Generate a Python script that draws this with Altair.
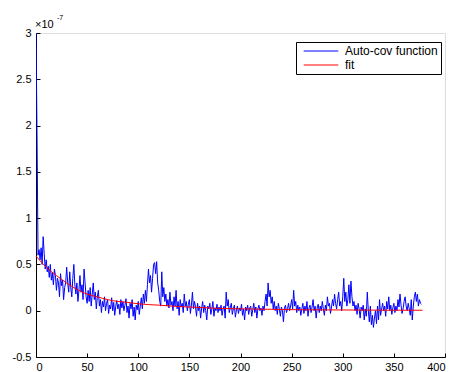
import altair as alt
import pandas as pd

# ---- data (values in units of 1e-7) ----
acov = [
    3.0, 1.9, 0.6, 0.66, 0.55, 0.68, 0.5, 0.8, 0.62, 0.45,
    0.55, 0.42, 0.48, 0.36, 0.5, 0.33, 0.41, 0.28, 0.45, 0.38,
    0.22, 0.35, 0.3, 0.15, 0.4, 0.27, 0.33, 0.12, 0.25, 0.3,
    0.47, 0.3, 0.2, 0.42, 0.25, 0.15, 0.35, 0.5, 0.28, 0.18,
    0.3, 0.1, 0.22, 0.38, 0.2, 0.28, 0.12, 0.45, 0.3, 0.15,
    0.08, 0.22, 0.1, 0.25, 0.05, 0.18, 0.3, 0.12, 0.2, 0.02,
    0.15, 0.22, 0.05, 0.12, -0.02, 0.1, 0.04, 0.15, 0.0, 0.08,
    0.12, -0.03, 0.06, 0.02, 0.14, 0.0, 0.09, -0.05, 0.05, 0.11,
    0.02, 0.07, -0.04, 0.12, 0.03, 0.1, 0.0, 0.06, 0.13, -0.02,
    0.05, -0.08, 0.08, 0.02, 0.12, -0.06, 0.04, -0.1, 0.06, 0.01,
    0.1, -0.04, 0.05, 0.14, 0.02, 0.18, 0.08, 0.22, 0.1, 0.28,
    0.45, 0.3, 0.38, 0.2, 0.35, 0.5, 0.52, 0.4, 0.53, 0.3,
    0.22, 0.1, 0.05, 0.42, 0.15, 0.25, 0.1, 0.18, 0.05, 0.12,
    0.03, 0.2, 0.06, 0.1, 0.0, 0.15, 0.05, 0.22, 0.02, 0.1,
    -0.05, 0.12, 0.04, 0.08, -0.02, 0.18, 0.05, 0.1, 0.0, 0.07,
    0.12, -0.03, 0.06, 0.2, 0.02, 0.1, 0.04, -0.06, 0.08, 0.0,
    0.05, -0.08, 0.03, 0.1, -0.02, 0.06, 0.0, -0.1, 0.05, 0.02,
    0.08, -0.04, 0.02, 0.1, -0.06, 0.03, 0.0, 0.07, -0.02, 0.04,
    0.0, 0.06, -0.05, 0.02, 0.05, -0.08, 0.2, 0.05, 0.12, -0.02,
    0.03, 0.08, -0.04, 0.02, 0.06, -0.07, 0.01, 0.05, -0.03, 0.03,
    0.0, 0.07, -0.05, 0.02, -0.1, 0.04, 0.0, 0.06, -0.04, 0.03,
    0.05, -0.06, 0.01, 0.08, -0.02, 0.04, -0.08, 0.02, 0.06, 0.0,
    0.03, -0.05, 0.05, 0.0, 0.1, 0.18, 0.05, 0.3, 0.15, 0.22,
    0.08, 0.15, 0.02, 0.1, 0.0, 0.05, -0.04, 0.08, 0.02, -0.06,
    0.04, 0.0, -0.12, 0.03, 0.06, -0.02, 0.02, 0.08, 0.0, 0.05,
    0.12, 0.02, 0.22, 0.05, 0.1, -0.02, 0.06, 0.0, 0.04, -0.05,
    0.02, 0.08, -0.03, 0.05, 0.0, 0.1, -0.06, 0.03, 0.06, -0.02,
    0.04, 0.12, 0.0, 0.05, -0.08, 0.03, 0.07, -0.02, 0.05, 0.0,
    0.1, 0.02, -0.05, 0.06, 0.0, 0.15, 0.05, 0.08, -0.03, 0.04,
    0.12, 0.05, 0.18, 0.08, 0.02, 0.12, 0.2, 0.05, 0.1, 0.0,
    0.15, 0.35, 0.1, 0.2, 0.05, 0.12, 0.28, 0.08, 0.32, 0.15,
    0.05, 0.1, 0.0, 0.06, -0.04, 0.08, 0.02, -0.08, 0.04, 0.0,
    0.06, -0.1, 0.02, -0.06, 0.2, 0.0, -0.12, 0.05, -0.15, -0.05,
    -0.18, -0.08, 0.0, -0.14, 0.05, -0.1, 0.12, -0.05, 0.02, 0.08,
    0.0, 0.05, -0.06, 0.1, 0.02, 0.15, 0.0, 0.06, -0.04, 0.03,
    0.08, -0.02, 0.05, 0.0, 0.12, 0.04, 0.18, 0.06, -0.03, 0.02,
    0.1, 0.15, 0.05, 0.0, 0.08, 0.02, -0.05, 0.12, -0.1, 0.05,
    0.15, 0.2, 0.1, 0.18, 0.05, 0.12, 0.08, 0.07,
]
lags = list(range(len(acov)))

fit_x = [0, 10, 20, 30, 40, 50, 60, 70, 80, 90, 100, 120, 140, 160, 180, 200, 230, 260, 300, 340, 378]
fit_y = [0.59, 0.47, 0.38, 0.30, 0.23, 0.18, 0.15, 0.12, 0.10, 0.09, 0.075, 0.06, 0.045, 0.035, 0.025,
         0.02, 0.015, 0.01, 0.008, 0.006, 0.005]

x_ticks = [0, 50, 100, 150, 200, 250, 300, 350, 400]
y_ticks = [-0.5, 0, 0.5, 1, 1.5, 2, 2.5, 3]
series_names = ["Auto-cov function", "fit"]
series_colors = ["#0000ff", "#ff0000"]

df_a = pd.DataFrame({"lag": lags, "value": acov, "series": series_names[0]})
df_f = pd.DataFrame({"lag": fit_x, "value": fit_y, "series": series_names[1]})

FONT = "Liberation Sans"
W, H = 409, 324

xscale = alt.Scale(domain=[0, 400], nice=False, zero=False)
yscale = alt.Scale(domain=[-0.5, 3], nice=False, zero=False)

x_lab_axis = alt.Axis(values=x_ticks, ticks=False, grid=False, title=None, orient="bottom",
                      domainColor="black", labelColor="black", labelFont=FONT, labelFontSize=11,
                      labelPadding=4, labelExpr="'' + datum.value")
y_lab_axis = alt.Axis(values=y_ticks, ticks=False, grid=False, title=None, orient="left",
                      domainColor="black", labelColor="black", labelFont=FONT, labelFontSize=11,
                      labelPadding=5, labelExpr="'' + datum.value")
x_tick_axis = alt.Axis(values=x_ticks, ticks=True, tickSize=4, offset=-4, labels=False, domain=False,
                       grid=False, title=None, orient="bottom", tickColor="black")
y_tick_axis = alt.Axis(values=y_ticks, ticks=True, tickSize=4, offset=-4, labels=False, domain=False,
                       grid=False, title=None, orient="left", tickColor="black")

color = alt.Color("series:N",
                  scale=alt.Scale(domain=series_names, range=series_colors),
                  legend=alt.Legend(title=None, orient="none", legendX=260, legendY=9,
                                    symbolType="M-0.307,0H7.693", symbolSize=75, symbolStrokeWidth=1,
                                    labelFont=FONT, labelFontSize=12, labelColor="black",
                                    strokeColor="black", fillColor="white", padding=3,
                                    labelOffset=34, rowPadding=2))

blue = alt.Chart(df_a).mark_line(strokeWidth=1, clip=True).encode(
    x=alt.X("lag:Q", scale=xscale, axis=x_lab_axis),
    y=alt.Y("value:Q", scale=yscale, axis=y_lab_axis),
    color=color,
)
red = alt.Chart(df_f).mark_line(strokeWidth=1, interpolate="monotone").encode(
    x=alt.X("lag:Q", scale=xscale, axis=x_tick_axis),
    y=alt.Y("value:Q", scale=yscale, axis=y_tick_axis),
    color=color,
)

exp_base = alt.Chart(pd.DataFrame({"t": ["×10"]})).mark_text(
    align="left", baseline="alphabetic", font=FONT, fontSize=11, color="black"
).encode(text="t:N", x=alt.value(-1), y=alt.value(-5))
exp_sup = alt.Chart(pd.DataFrame({"t": ["-7"]})).mark_text(
    align="left", baseline="alphabetic", font=FONT, fontSize=7, color="black"
).encode(text="t:N", x=alt.value(21), y=alt.value(-13))

chart = alt.layer(blue, red, exp_base, exp_sup).resolve_axis(
    x="independent", y="independent"
).properties(
    width=W, height=H,
    autosize=alt.AutoSizeParams(type="none"),
    padding={"left": 28, "top": 25, "right": 3, "bottom": 15},
).configure_view(stroke=None).configure(background="white")

chart.save("out.html", embed_options={"renderer": "svg", "actions": False})
